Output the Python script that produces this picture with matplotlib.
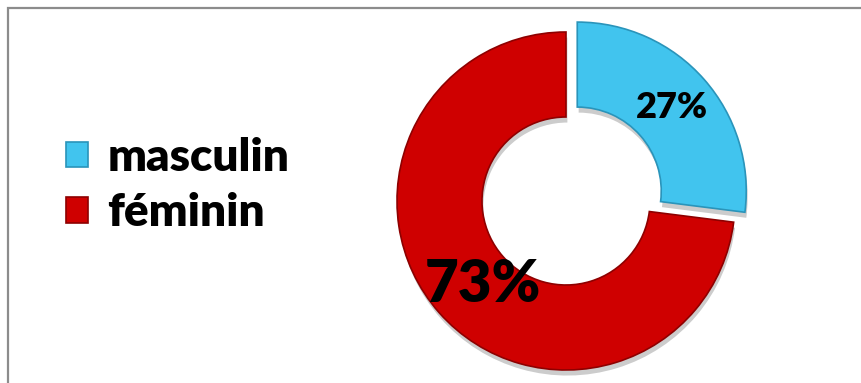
import matplotlib
matplotlib.use("Agg")
import matplotlib.pyplot as plt
import matplotlib.patheffects as pe
from matplotlib.patches import Rectangle

# Gender split
categories = ["masculin", "féminin"]
shares = [27, 73]
colors = ["#41C4EE", "#CF0000"]
edge_colors = ["#2A94BA", "#8E0000"]

W, H = 861, 383
fig = plt.figure(figsize=(W / 100, H / 100), dpi=100)
ax = fig.add_axes([0, 0, 1, 1])

# donut in pixel-like data units (y up)
center = (566, H - 201)
radius = 169
ring = 85

wedges, _, pct_texts = ax.pie(
    shares,
    colors=colors,
    startangle=90,
    counterclock=False,
    center=center,
    radius=radius,
    explode=[15, 0],
    autopct="%.0f%%",
    pctdistance=(radius - ring / 2) / radius,
    wedgeprops=dict(width=ring, linewidth=1.2),
)
for w, ec in zip(wedges, edge_colors):
    w.set_edgecolor(ec)
    w.set_path_effects([
        pe.SimplePatchShadow(offset=(1, -4), shadow_rgbFace="#000000", alpha=0.2),
        pe.Normal(),
    ])

font = "Lato"
pct_sizes = [26, 42]
for t, fs in zip(pct_texts, pct_sizes):
    t.set_fontsize(fs)
    t.set_fontweight("heavy")
    t.set_fontfamily(font)
    t.set_color("black")
# nudge the large label toward the lower-left of the ring
x73, y73 = pct_texts[1].get_position()
pct_texts[1].set_position((x73 + 12, y73))

ax.set_xlim(0, W)
ax.set_ylim(0, H)
ax.set_aspect("equal")
ax.axis("off")

leg = ax.legend(
    wedges, categories,
    loc="center left",
    bbox_to_anchor=(66 / W, 1 - 185 / H),
    bbox_transform=fig.transFigure,
    frameon=False,
    borderpad=0,
    borderaxespad=0,
    handlelength=0.48,
    handleheight=0.48,
    handletextpad=0.42,
    labelspacing=0.32,
    prop=dict(family=font, weight="heavy", size=33),
)
for h in leg.legend_handles:
    h.set_path_effects([])

# outer frame (left and top edges visible)
fig.add_artist(Rectangle((7.5 / W, -0.1), 2.0, 1.1 - 7.5 / H, transform=fig.transFigure,
                         fill=False, edgecolor="#8C8C8C", linewidth=1.6))

fig.savefig("out.png", dpi=100)
